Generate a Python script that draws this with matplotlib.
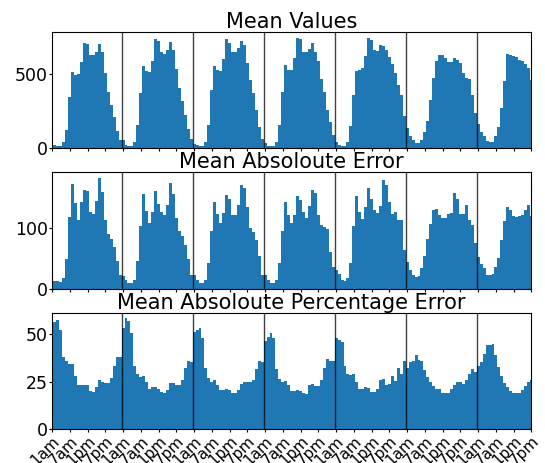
import numpy as np
import matplotlib
matplotlib.use('Agg')
import matplotlib.pyplot as plt
from matplotlib.ticker import MaxNLocator

# hourly means over one week (last day cut at 7pm)
hour_labels = ['1am', '7am', '1pm', '7pm']
titles = ['Mean Values', 'Mean Absoloute Error', 'Mean Absoloute Percentage Error']

mean_values = [
    30, 20, 15, 15, 40, 125, 345, 510, 495, 500, 580, 705, 700, 625, 630, 645, 700, 650, 504, 380, 290, 212, 115, 59,
    55, 20, 15, 15, 40, 155, 375, 555, 520, 510, 590, 735, 720, 645, 635, 660, 712, 662, 532, 403, 321, 223, 133, 61,
    30, 20, 15, 15, 40, 155, 390, 555, 525, 520, 600, 735, 710, 650, 645, 675, 725, 696, 572, 459, 369, 257, 144, 65,
    35, 15, 15, 15, 40, 155, 380, 560, 530, 525, 610, 745, 735, 650, 650, 670, 710, 650, 590, 465, 380, 257, 178, 88,
    40, 25, 15, 15, 40, 150, 360, 520, 525, 540, 620, 740, 730, 660, 655, 695, 685, 660, 615, 570, 505, 425, 360, 216,
    135, 80, 53, 36, 36, 58, 110, 185, 325, 475, 590, 625, 625, 605, 580, 580, 605, 595, 575, 505, 475, 465, 360, 238,
    165, 110, 80, 50, 40, 45, 80, 145, 270, 455, 635, 625, 620, 612, 595, 585, 570, 540, 460,
]

mae = [
    22, 13, 12, 11, 17, 48, 117, 172, 140, 112, 142, 162, 160, 126, 123, 143, 181, 158, 112, 90, 82, 69, 46, 22,
    21, 15, 10, 9, 15, 46, 102, 155, 127, 107, 126, 159, 138, 126, 121, 137, 173, 155, 115, 94, 86, 72, 49, 22,
    22, 14, 10, 9, 15, 42, 95, 141, 122, 107, 124, 153, 146, 121, 121, 137, 169, 165, 133, 100, 92, 80, 53, 23,
    23, 15, 10, 9, 15, 42, 95, 142, 121, 108, 121, 151, 145, 126, 116, 135, 162, 157, 120, 105, 101, 98, 60, 35,
    30, 25, 14, 12, 17, 42, 103, 152, 125, 114, 134, 165, 146, 129, 124, 135, 178, 170, 142, 123, 125, 112, 112, 63,
    44, 30, 23, 19, 21, 34, 53, 81, 106, 128, 130, 120, 115, 115, 123, 124, 156, 146, 122, 122, 137, 112, 105, 75,
    52, 41, 34, 22, 22, 25, 36, 51, 79, 110, 134, 129, 119, 118, 119, 120, 129, 137, 119,
]

mape = [
    55, 56, 57, 52, 38, 36, 34, 34, 28, 23, 23, 23, 23, 20, 19.5, 22, 26, 25, 24, 24, 27, 33, 38, 38,
    53, 58, 56.5, 50.5, 33, 29, 27.5, 28, 24.5, 21, 22, 22, 21, 19.5, 19, 20.5, 24, 24, 23, 23, 26, 32, 36, 35,
    51, 52, 53, 48, 32, 27, 25, 26, 23, 20.5, 20.5, 21, 20.5, 19, 19, 20.5, 23.5, 24.5, 24.5, 24.5, 26, 31.5, 35.5, 35,
    46, 48.5, 50.5, 48, 31.5, 26.5, 25, 25.5, 23, 20, 20, 20.5, 20, 19, 18.5, 23, 23.5, 22.5, 22.5, 26, 32, 37, 36, 35.5,
    48, 47, 45.5, 33, 29, 28.5, 29, 25, 21, 21, 22, 21.5, 19.5, 19.5, 21, 26, 26.5, 23, 23.5, 28, 25.5, 32, 29, 36,
    32, 35, 36, 39, 36.5, 36, 31, 27.5, 24.5, 22.5, 21, 21, 19, 19, 19, 21, 23, 25, 25, 23.5, 26, 29, 31.5, 30,
    33, 35, 39.5, 44, 44, 44.5, 39, 32.5, 28, 24, 22, 20, 19, 19, 19, 20.5, 22.5, 24.5, 26,
]

plt.rcParams['font.size'] = 12.5

fig, axes = plt.subplots(3, 1, sharex=True, figsize=(5.45, 4.63), dpi=100)
fig.subplots_adjust(left=0.0954, right=0.9752, bottom=0.0728, top=0.9309, hspace=0.2075)

x = np.arange(len(mean_values))
tick_pos = [d * 24 + h for d in range(7) for h in (0, 6, 12, 18)]
tick_lab = hour_labels * 7

for ax, vals, title in zip(axes, [mean_values, mae, mape], titles):
    ax.bar(x, vals, width=1.0, color='#1f77b4')
    for d in range(1, 7):
        ax.axvline(d * 24 - 0.5, color='k', lw=1, alpha=0.75)  # day separators
    ax.set_title(title, fontsize=15, pad=2)
    ax.yaxis.set_major_locator(MaxNLocator(nbins=3, steps=[1, 2.5, 5, 10]))
    ax.tick_params(length=2, pad=1)

ax.set_xlim(0, 162)
ax.set_xticks(tick_pos)
ax.set_xticklabels(tick_lab, rotation=45, ha='right', rotation_mode='anchor', fontsize=11)

fig.savefig('out.png')
